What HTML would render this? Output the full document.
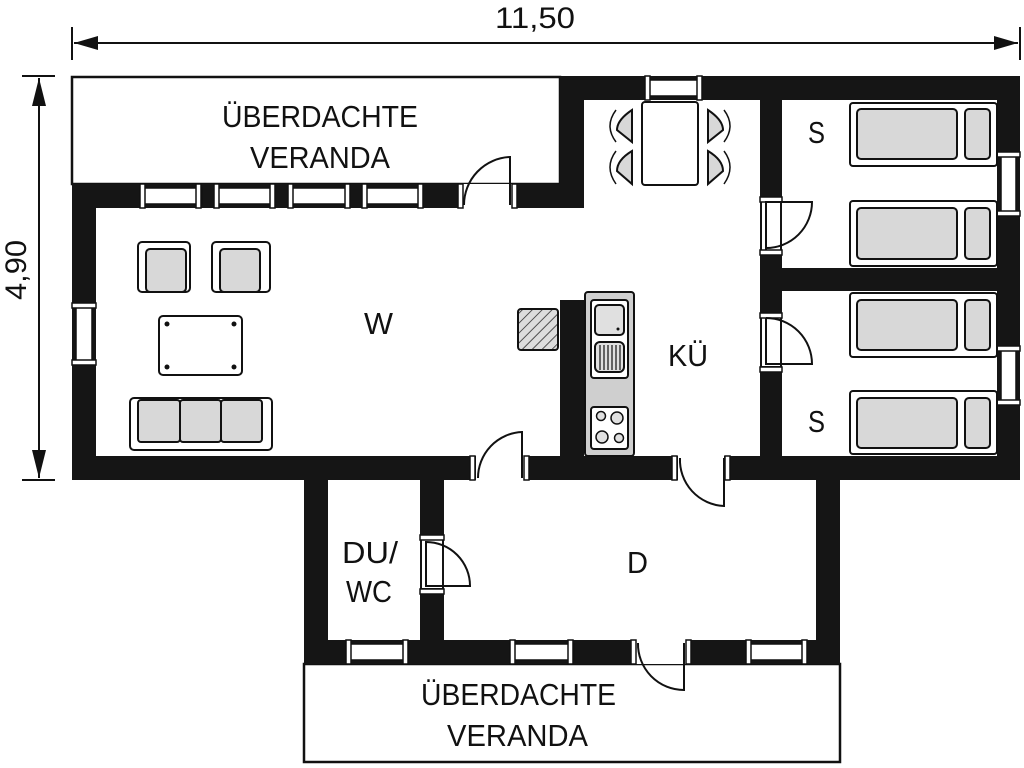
<!DOCTYPE html>
<html><head><meta charset="utf-8"><style>html,body{margin:0;padding:0;background:#fff}svg{display:block}text{font-family:"Liberation Sans",sans-serif;fill:#111}</style></head><body>
<svg width="1024" height="768" viewBox="0 0 1024 768" xmlns="http://www.w3.org/2000/svg">
<defs>
<pattern id="h" width="7" height="7" patternUnits="userSpaceOnUse" patternTransform="rotate(45)"><rect width="7" height="7" fill="#ddd"/><line x1="0" y1="0" x2="0" y2="7" stroke="#222" stroke-width="1.5"/></pattern>
</defs>
<!-- dimensions -->
<g stroke="#111" stroke-width="2" fill="#111">
<line x1="72" y1="27" x2="72" y2="60"/><line x1="1020" y1="27" x2="1020" y2="60"/>
<line x1="74" y1="43" x2="1018" y2="43"/>
<polygon points="74,43 98,36 98,50" stroke="none"/><polygon points="1018,43 994,36 994,50" stroke="none"/>
<line x1="22" y1="76" x2="55" y2="76"/><line x1="22" y1="480" x2="55" y2="480"/>
<line x1="39" y1="78" x2="39" y2="478"/>
<polygon points="39,78 32,106 46,106" stroke="none"/><polygon points="39,478 32,450 46,450" stroke="none"/>
</g>
<text x="495" y="28" font-size="30" textLength="80" lengthAdjust="spacingAndGlyphs">11,50</text>
<text transform="translate(26,300) rotate(-90)" font-size="30" textLength="60" lengthAdjust="spacingAndGlyphs">4,90</text>
<!-- verandas -->
<rect x="72" y="77" width="488" height="107" fill="#fff" stroke="#111" stroke-width="2.5"/>
<rect x="304" y="664" width="536" height="98" fill="#fff" stroke="#111" stroke-width="2.5"/>
<!-- walls -->
<g fill="#151515">
<rect x="72" y="184" width="512" height="24"/>
<rect x="72" y="184" width="24" height="296"/>
<rect x="72" y="456" width="948" height="24"/>
<rect x="560" y="76" width="24" height="132"/>
<rect x="560" y="76" width="460" height="24"/>
<rect x="760" y="76" width="22" height="404"/>
<rect x="760" y="268" width="260" height="23"/>
<rect x="997" y="76" width="23" height="404"/>
<rect x="560" y="300" width="24" height="160"/>
<rect x="304" y="480" width="24" height="184"/>
<rect x="420" y="480" width="24" height="184"/>
<rect x="816" y="480" width="24" height="184"/>
<rect x="304" y="640" width="536" height="24"/>
</g>
<!-- windows -->
<g fill="#fff" stroke="#111" stroke-width="1.5">
<rect x="140" y="188" width="62" height="16"/><rect x="216" y="188" width="58" height="16"/>
<rect x="290" y="188" width="58" height="16"/><rect x="364" y="188" width="58" height="16"/>
<rect x="76" y="304" width="16" height="60"/>
<rect x="645" y="80" width="55" height="16"/>
<rect x="1001" y="155" width="15" height="58"/><rect x="1001" y="348" width="15" height="54"/>
<rect x="346" y="644" width="62" height="16"/><rect x="510" y="644" width="64" height="16"/><rect x="746" y="644" width="60" height="16"/>
</g>
<g fill="#fff" stroke="#111" stroke-width="1.5">
<rect x="140" y="184" width="5" height="24"/><rect x="196" y="184" width="5" height="24"/>
<rect x="214" y="184" width="5" height="24"/><rect x="270" y="184" width="5" height="24"/>
<rect x="288" y="184" width="5" height="24"/><rect x="345" y="184" width="5" height="24"/>
<rect x="362" y="184" width="5" height="24"/><rect x="418" y="184" width="5" height="24"/>
<rect x="346" y="640" width="5" height="24"/><rect x="403" y="640" width="5" height="24"/>
<rect x="510" y="640" width="5" height="24"/><rect x="568" y="640" width="5" height="24"/>
<rect x="746" y="640" width="5" height="24"/><rect x="802" y="640" width="5" height="24"/>
<rect x="72" y="303" width="24" height="5"/><rect x="72" y="360" width="24" height="5"/>
<rect x="645" y="76" width="5" height="24"/><rect x="697" y="76" width="5" height="24"/>
<rect x="997" y="152" width="23" height="5"/><rect x="997" y="211" width="23" height="5"/>
<rect x="997" y="346" width="23" height="5"/><rect x="997" y="400" width="23" height="5"/>
</g>
<!-- door openings -->
<g fill="#fff">
<rect x="462" y="184" width="50" height="24"/>
<rect x="762" y="202" width="18" height="48"/><rect x="762" y="318" width="18" height="48"/>
<rect x="476" y="456" width="48" height="24"/><rect x="678" y="456" width="46" height="24"/>
<rect x="422" y="540" width="20" height="48"/><rect x="636" y="640" width="50" height="24"/>
</g>
<g fill="#fff" stroke="#111" stroke-width="1.5">
<rect x="458" y="184" width="5" height="24"/><rect x="512" y="184" width="5" height="24"/>
<rect x="760" y="197" width="22" height="5"/><rect x="760" y="250" width="22" height="5"/>
<rect x="760" y="313" width="22" height="5"/><rect x="760" y="367" width="22" height="5"/>
<rect x="470" y="456" width="5" height="24"/><rect x="524" y="456" width="5" height="24"/>
<rect x="672" y="456" width="5" height="24"/><rect x="725" y="456" width="5" height="24"/>
<rect x="420" y="535" width="24" height="5"/><rect x="420" y="589" width="24" height="5"/>
<rect x="631" y="640" width="5" height="24"/><rect x="686" y="640" width="5" height="24"/>
</g>
<!-- doors -->
<g fill="none" stroke="#111" stroke-width="2">
<path d="M464,205 A48,48 0 0 1 510,157 L510,205"/>
<path d="M766,250 L766,202 L812,202 A46,46 0 0 1 766,248"/>
<path d="M766,318 A46,46 0 0 1 812,364 L766,364 L766,318"/>
<path d="M478,478 A46,46 0 0 1 522,432 L522,478"/>
<path d="M680,458 A46,46 0 0 0 724,506 L724,458"/>
<path d="M426,542 A44,44 0 0 1 470,586 L426,586 Z"/>
<path d="M638,643 A46,46 0 0 0 684,690 L684,643"/>
</g>
<!-- living furniture -->
<g stroke="#111" stroke-width="2">
<rect x="138" y="242" width="52" height="50" rx="4" fill="#fff"/><rect x="146" y="249" width="40" height="43" rx="4" fill="#d8d8d8"/>
<rect x="212" y="242" width="58" height="50" rx="4" fill="#fff"/><rect x="220" y="249" width="40" height="43" rx="4" fill="#d8d8d8"/>
<rect x="159" y="316" width="83" height="59" rx="4" fill="#fff"/>
<rect x="130" y="398" width="142" height="52" rx="4" fill="#fff"/>
<rect x="138" y="400" width="42" height="42" rx="3" fill="#d8d8d8"/><rect x="180" y="400" width="41" height="42" rx="3" fill="#d8d8d8"/><rect x="221" y="400" width="41" height="42" rx="3" fill="#d8d8d8"/>
<rect x="518" y="309" width="40" height="41" rx="3" fill="url(#h)"/>
</g>
<g fill="#111"><circle cx="167" cy="324" r="2.5"/><circle cx="234" cy="324" r="2.5"/><circle cx="167" cy="367" r="2.5"/><circle cx="234" cy="367" r="2.5"/>
<circle cx="652" cy="112" r="2"/><circle cx="689" cy="112" r="2"/><circle cx="652" cy="173" r="2"/><circle cx="689" cy="173" r="2"/></g>
<!-- dining -->
<g stroke="#111" stroke-width="2">
<rect x="642" y="102" width="56" height="83" rx="3" fill="#fff"/>
<path d="M632,110 L632,142 L617,130 Q617,120 632,110Z M632,151 L632,184 L617,171 Q617,160 632,151Z" fill="#d8d8d8"/>
<path d="M708,110 L708,142 L723,130 Q723,120 708,110Z M708,151 L708,184 L723,171 Q723,160 708,151Z" fill="#d8d8d8"/>
<path d="M616,110 Q604,126 616,142 M616,151 Q604,167 616,184 M724,110 Q736,126 724,142 M724,151 Q736,167 724,184" fill="none" stroke-width="1.5"/>
</g>
<!-- kitchen counter -->
<g stroke="#111" stroke-width="2">
<rect x="585" y="292" width="49" height="164" rx="3" fill="#cfcfcf"/>
<rect x="591" y="300" width="37" height="78" rx="3" fill="#fff"/>
<rect x="595" y="305" width="29" height="30" rx="4" fill="#e0e0e0"/>
<rect x="595" y="342" width="29" height="30" rx="5" fill="#e0e0e0"/>
<rect x="591" y="407" width="37" height="42" rx="3" fill="#fff"/>
<g fill="#e0e0e0" stroke-width="1.5"><circle cx="601" cy="416" r="4.5"/><circle cx="617" cy="418" r="6"/><circle cx="602" cy="437" r="6"/><circle cx="619" cy="438" r="4.5"/></g>
</g>
<g stroke="#111" stroke-width="1.2"><line x1="600" y1="345" x2="600" y2="370"/><line x1="604" y1="345" x2="604" y2="370"/><line x1="608" y1="345" x2="608" y2="370"/><line x1="612" y1="345" x2="612" y2="370"/><line x1="616" y1="345" x2="616" y2="370"/><line x1="620" y1="345" x2="620" y2="370"/></g>
<circle cx="618" cy="329" r="1.5" fill="#111"/>
<!-- beds -->
<g stroke="#111" stroke-width="2">
<rect x="850" y="103" width="147" height="63" rx="3" fill="#fff"/><rect x="857" y="109" width="100" height="50" rx="4" fill="#d8d8d8"/><rect x="965" y="109" width="25" height="50" rx="4" fill="#d8d8d8"/>
<rect x="850" y="201" width="147" height="65" rx="3" fill="#fff"/><rect x="857" y="208" width="100" height="51" rx="4" fill="#d8d8d8"/><rect x="965" y="208" width="25" height="51" rx="4" fill="#d8d8d8"/>
<rect x="850" y="293" width="147" height="64" rx="3" fill="#fff"/><rect x="857" y="300" width="100" height="50" rx="4" fill="#d8d8d8"/><rect x="965" y="300" width="25" height="50" rx="4" fill="#d8d8d8"/>
<rect x="850" y="391" width="147" height="63" rx="3" fill="#fff"/><rect x="857" y="398" width="100" height="50" rx="4" fill="#d8d8d8"/><rect x="965" y="398" width="25" height="50" rx="4" fill="#d8d8d8"/>
</g>
<!-- labels -->
<g font-size="31">
<text x="222" y="127" textLength="196" lengthAdjust="spacingAndGlyphs">ÜBERDACHTE</text>
<text x="250" y="168" textLength="140" lengthAdjust="spacingAndGlyphs">VERANDA</text>
<text x="364" y="334" textLength="29" lengthAdjust="spacingAndGlyphs">W</text>
<text x="668" y="366" textLength="40" lengthAdjust="spacingAndGlyphs">KÜ</text>
<text x="808" y="143" textLength="17" lengthAdjust="spacingAndGlyphs">S</text>
<text x="808" y="432" textLength="17" lengthAdjust="spacingAndGlyphs">S</text>
<text x="342" y="563" textLength="56" lengthAdjust="spacingAndGlyphs">DU/</text>
<text x="346" y="602" textLength="46" lengthAdjust="spacingAndGlyphs">WC</text>
<text x="627" y="573" textLength="21" lengthAdjust="spacingAndGlyphs">D</text>
<text x="421" y="705" textLength="195" lengthAdjust="spacingAndGlyphs">ÜBERDACHTE</text>
<text x="447" y="746" textLength="141" lengthAdjust="spacingAndGlyphs">VERANDA</text>
</g>
</svg>
</body></html>
